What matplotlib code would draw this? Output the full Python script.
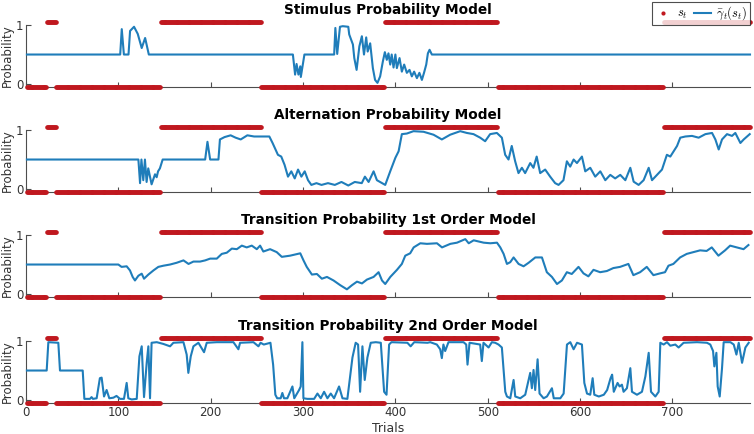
import numpy as np
import matplotlib
matplotlib.use("Agg")
import matplotlib.pyplot as plt
from matplotlib.lines import Line2D

# ---------------- data ----------------
titles = ["Stimulus Probability Model",
          "Alternation Probability Model",
          "Transition Probability 1st Order Model",
          "Transition Probability 2nd Order Model"]

# stimulus sequence s_t as runs
s_run_values = [0, 1, 0, 1, 0, 1, 0, 1]
s_run_lengths = [22, 10, 113, 109, 134, 122, 180, 94]

x_ticks = [0, 100, 200, 300, 400, 500, 600, 700]
y_ticks = [0, 1]

# Panel 1: stimulus probability
stim_t = [1, 102, 103.7, 106, 111, 112.7, 117, 121, 125.3, 129, 133, 289, 291.4, 293, 295, 297,
          297.6, 301.5, 333.7, 335, 337, 340, 343, 349, 350, 354, 355.5, 358, 361, 363.7, 366,
          368.4, 370, 372.7, 375.6, 378, 380.6, 383.5, 386.4, 388.6, 390.7, 392.5, 394.4, 396,
          398, 400, 401.6, 404.5, 407, 409.5, 412.4, 415.3, 417.8, 420.3, 423.3, 426, 428.7,
          431, 433.4, 435.2, 437, 439.5, 784]
stim_p = [0.5, 0.5, 0.93, 0.5, 0.5, 0.9, 0.97, 0.85, 0.61, 0.78, 0.5, 0.5, 0.16, 0.34, 0.16, 0.3,
          0.12, 0.5, 0.5, 0.95, 0.51, 0.97, 0.98, 0.97, 0.84, 0.67, 0.44, 0.24, 0.64, 0.81, 0.5,
          0.79, 0.55, 0.69, 0.27, 0.07, 0.02, 0.13, 0.38, 0.54, 0.41, 0.52, 0.33, 0.5,
          0.28, 0.5, 0.27, 0.44, 0.21, 0.33, 0.19, 0.24, 0.13, 0.21, 0.10, 0.19, 0.07,
          0.19, 0.33, 0.52, 0.58, 0.5, 0.5]

# Panel 2: alternation probability
alt_t = [1, 121.7, 123.5, 125, 127, 128.8, 130.6, 132.4, 136, 139.7, 141.5, 143, 145, 148, 194,
         196.5, 199.4, 208.4, 210, 215, 221.6, 227, 232.5, 239.7, 247, 254.5, 263.5, 267, 272.8,
         276.4, 280, 283.7, 287.3, 291, 294.6, 298.2, 301.8, 305.4, 309, 314.5, 320, 327, 334.4,
         341.6, 349, 356, 363.6, 367, 371, 376.4, 380, 385.5, 389, 394.4, 400, 403.5, 407,
         412.4, 419.6, 430.5, 441.3, 450.3, 459.3, 470.2, 477.4, 484.6, 491.8, 497.2, 502.6,
         509.9, 515.3, 518.9, 522.5, 526, 529.7, 533.3, 537, 540.5, 546, 549.5, 553, 556.8,
         562.2, 567.6, 573, 576.7, 582, 585.7, 589.3, 593, 596.6, 602, 605.6, 611, 616.4, 621.9,
         627.3, 632.7, 638, 643.5, 649, 654.4, 658, 663.4, 668.8, 674.3, 677.9, 683.3, 688.7,
         694, 697.7, 701.3, 705, 708.5, 714, 721.2, 728.4, 735.7, 742.9, 746.5, 750.1, 753.7,
         759.1, 764.5, 768.1, 773.6, 777.2, 780.8, 783.7]
alt_p = [0.5, 0.5, 0.1, 0.5, 0.15, 0.5, 0.12, 0.35, 0.08, 0.25, 0.2, 0.3, 0.35, 0.5, 0.5,
         0.8, 0.5, 0.5, 0.84, 0.88, 0.91, 0.87, 0.84, 0.91, 0.89, 0.89, 0.89, 0.78, 0.58,
         0.55, 0.41, 0.21, 0.3, 0.18, 0.33, 0.21, 0.3, 0.15, 0.07, 0.1, 0.07, 0.1, 0.07,
         0.12, 0.06, 0.12, 0.1, 0.21, 0.12, 0.3, 0.15, 0.1, 0.07, 0.3, 0.53, 0.64, 0.93,
         0.94, 0.98, 0.97, 0.92, 0.84, 0.92, 0.98, 0.95, 0.93, 0.87, 0.81, 0.93,
         0.95, 0.87, 0.58, 0.5, 0.73, 0.47, 0.27, 0.36, 0.27, 0.44, 0.36, 0.55, 0.27,
         0.33, 0.21, 0.1, 0.07, 0.15, 0.47, 0.38, 0.5, 0.44, 0.55, 0.3, 0.36, 0.21, 0.3,
         0.15, 0.24, 0.18, 0.24, 0.15, 0.36, 0.125, 0.07, 0.15, 0.36, 0.15, 0.24, 0.33,
         0.58, 0.55, 0.64, 0.73, 0.87, 0.89, 0.9, 0.87, 0.93, 0.95, 0.84, 0.67, 0.84,
         0.93, 0.9, 0.95, 0.78, 0.84, 0.89, 0.93]

# Panel 3: transition probability 1st order
tp1_t = [1, 100, 103.5, 109, 112.6, 115.5, 118, 121.7, 125.3, 127.8, 132.5, 138, 143.3, 148.8,
         156, 163.2, 170.5, 176, 181.3, 188.5, 194, 199.4, 206.6, 212, 217.4, 222.9, 228.3,
         233.7, 239, 244.5, 249.9, 253.5, 257, 264.3, 271.5, 277, 286, 297, 300.5, 304, 309.6,
         315, 320.4, 325.9, 333, 340.3, 347.5, 353, 358.4, 363.8, 369.2, 376.4, 381.8, 385.5,
         389, 394.5, 401.7, 407, 410.7, 416, 419.8, 427, 434.2, 445, 450.5, 459.5, 466.7,
         475.7, 479.4, 484.8, 495.6, 502.8, 510, 513.6, 517.2, 520.8, 524.4, 528, 533.4,
         538.8, 544.3, 551.5, 558.7, 564, 569.5, 575, 580.3, 585.7, 591, 598.3, 603.7, 609,
         614.5, 621.7, 629, 636, 643.3, 652.3, 657.7, 665, 672.2, 679.4, 686.6, 692, 695.7,
         701, 708.3, 715.5, 722.7, 730, 737, 742.6, 749.8, 757, 762.5, 769.7, 777, 782.3]
tp1_p = [0.5, 0.5, 0.46, 0.47, 0.4, 0.29, 0.23, 0.31, 0.345, 0.26, 0.33, 0.4, 0.46, 0.48,
         0.5, 0.53, 0.57, 0.51, 0.55, 0.55, 0.57, 0.6, 0.6, 0.68, 0.7, 0.77, 0.76,
         0.82, 0.79, 0.82, 0.76, 0.82, 0.72, 0.76, 0.71, 0.63, 0.65, 0.69, 0.57, 0.46, 0.33,
         0.34, 0.26, 0.29, 0.23, 0.15, 0.08, 0.15, 0.21, 0.18, 0.245, 0.29, 0.37, 0.23,
         0.17, 0.29, 0.41, 0.51, 0.65, 0.69, 0.79, 0.86, 0.85, 0.86, 0.79, 0.85, 0.87,
         0.93, 0.86, 0.91, 0.87, 0.86, 0.87, 0.79, 0.68, 0.51, 0.54, 0.62, 0.51,
         0.47, 0.53, 0.62, 0.62, 0.37, 0.29, 0.17, 0.23, 0.37, 0.34, 0.46, 0.35, 0.3,
         0.41, 0.37, 0.39, 0.44, 0.46, 0.51, 0.32, 0.37, 0.46, 0.32, 0.35, 0.37, 0.48,
         0.51, 0.62, 0.68, 0.71, 0.74, 0.73, 0.79, 0.65, 0.74, 0.82, 0.79, 0.76, 0.83]

# Panel 4: transition probability 2nd order
tp2_t = [1, 22.4, 24.2, 35, 36.8, 61.4, 63.2, 69.3, 71, 72.5, 76.5, 80, 81.9, 84.5, 87.3, 90.2,
         94.6, 98, 101.8, 106.1, 109, 110.8, 114.4, 119.9, 122.8, 125.3, 127.8, 130.7, 132.5,
         134.3, 136, 141.6, 148.8, 156, 159.6, 170.5, 174, 175.8, 178.4, 181.3, 186.7, 192.8,
         195.7, 206.6, 224.6, 230, 231.8, 246.3, 251.7, 254, 257.5, 264.7, 267.6, 270, 272,
         275.8, 277.6, 279.4, 283, 288.5, 290.5, 295.7, 297.5, 299.3, 300.4, 304.7, 312,
         315.6, 319.2, 322.8, 326.4, 330, 333.6, 339, 342.7, 348, 353.5, 357, 359.6, 361.8,
         364.3, 366.8, 369.7, 373.3, 378.8, 384.2, 387.8, 390.4, 393.2, 395.7, 413, 416.5,
         420.4, 434.8, 437.7, 444.9, 448.5, 450.3, 452, 453.9, 457.5, 473.8, 476.7, 478.1,
         480.3, 491.8, 493.6, 495.4, 500.9, 504.5, 508.1, 511.7, 515.3, 519, 520.8, 524.4,
         528, 529.8, 535.2, 540.6, 546, 547.8, 549.6, 551.4, 554, 556.1, 560.5, 564.1, 569.5,
         571.5, 578.6, 582.2, 585.8, 589.4, 593, 596.7, 602, 604.6, 607.5, 611, 613.6, 615.4,
         620.3, 625.7, 629.3, 633, 634.7, 636.5, 640.6, 642.8, 645.3, 647.1, 650.7, 654.4,
         656.2, 661.6, 667, 670.7, 674.3, 676.8, 681.5, 685.1, 686.9, 690.5, 694.1, 697.7,
         703.1, 706.7, 712.1, 726.6, 737.4, 741, 744, 745.4, 747.6, 749, 751.2, 753.7, 755.5,
         762.8, 766.4, 769.3, 771.8, 775.4, 779, 782.6]
tp2_p = [0.5, 0.5, 0.98, 0.97, 0.5, 0.5, 0.02, 0.02, 0.05, 0.02, 0.03, 0.37, 0.38, 0.06, 0.17,
         0.03, 0.04, 0.07, 0.02, 0.02, 0.29, 0.03, 0.01, 0.02, 0.74, 0.91, 0.05, 0.63, 0.91,
         0.03, 0.97, 0.98, 0.95, 0.91, 0.97, 0.98, 0.77, 0.46, 0.74, 0.91, 0.97, 0.81,
         0.97, 0.98, 0.98, 0.86, 0.97, 0.98, 0.91, 0.97, 0.94, 0.97, 0.6, 0.09, 0.03,
         0.03, 0.12, 0.03, 0.03, 0.23, 0.03, 0.17, 0.23, 0.98, 0.03, 0.02, 0.02,
         0.11, 0.03, 0.14, 0.03, 0.11, 0.03, 0.23, 0.03, 0.02, 0.72, 0.97, 0.94, 0.14,
         0.91, 0.34, 0.72, 0.97, 0.98, 0.97, 0.14, 0.09, 0.94, 0.98, 0.97, 0.91,
         0.98, 0.97, 0.98, 0.94, 0.86, 0.71, 0.94, 0.83, 0.98, 0.98, 0.94, 0.6,
         0.97, 0.94, 0.66, 0.97, 0.89, 0.98, 0.97, 0.94, 0.89, 0.14, 0.06, 0.03,
         0.34, 0.06, 0.03, 0.09, 0.46, 0.2, 0.51, 0.17, 0.69, 0.11, 0.03, 0.06, 0.2,
         0.03, 0.03, 0.11, 0.94, 0.98, 0.86, 0.97, 0.94, 0.29, 0.11, 0.09, 0.37, 0.09,
         0.06, 0.09, 0.17, 0.37, 0.43, 0.14, 0.29, 0.23, 0.26, 0.14, 0.2, 0.54,
         0.14, 0.09, 0.14, 0.4, 0.8, 0.14, 0.06, 0.14, 0.97, 0.94, 0.98, 0.92,
         0.94, 0.89, 0.97, 0.98, 0.97, 0.94, 0.83, 0.57, 0.8, 0.23, 0.06, 0.54, 0.98,
         0.98, 0.94, 0.77, 0.97, 0.63, 0.89, 0.97]

model_t = [stim_t, alt_t, tp1_t, tp2_t]
model_p = [stim_p, alt_p, tp1_p, tp2_p]

# ---------------- style ----------------
plt.rcParams['font.family'] = ['DejaVu Sans']
plt.rcParams['mathtext.fontset'] = 'cm'
RED = '#c0181f'
BLUE = '#1f7dba'
GREY = '#4d4d4d'

s = np.repeat(s_run_values, s_run_lengths)
trials = np.arange(1, len(s) + 1)
s_y = np.where(s == 1, 1.05, -0.05)

fig = plt.figure(figsize=(7.54, 4.34), dpi=100)
W, H = 754, 434
left = 26 / W
width = (750 - 26) / W
bottoms_px = [87, 192, 297, 403]
height = 62 / H

axes = []
for i in range(4):
    ax = fig.add_axes([left, 1 - bottoms_px[i] / H, width, height])
    axes.append(ax)
    ax.plot(trials, s_y, linestyle='none', marker='o', ms=3.3, mew=0,
            color=RED, clip_on=False, zorder=3)
    ax.plot(model_t[i], model_p[i], color=BLUE, lw=1.5, clip_on=False, zorder=4)
    ax.set_xlim(0, 784)
    ax.set_ylim(-0.05, 1.0)
    ax.set_xticks(x_ticks)
    ax.set_yticks(y_ticks)
    ax.spines['top'].set_visible(False)
    ax.spines['right'].set_visible(False)
    for sp in ('left', 'bottom'):
        ax.spines[sp].set_color(GREY)
        ax.spines[sp].set_linewidth(0.8)
    ax.tick_params(direction='in', length=3.5, width=0.8, color=GREY,
                   labelsize=8.5, labelcolor='#333333', pad=2)
    ax.set_ylabel('Probability', fontsize=8.5, color='#333333', labelpad=1)
    ax.set_title(titles[i], fontsize=9.8, fontweight='bold', pad=8)
    if i < 3:
        ax.tick_params(labelbottom=False)

axes[-1].set_xlabel('Trials', fontsize=9, color='#333333', labelpad=2)

handles = [Line2D([], [], linestyle='none', marker='o', ms=3, mew=0, color=RED),
           Line2D([], [], color=BLUE, lw=1.5)]
leg = fig.legend(handles, [r'$s_t$', r'$\bar{\gamma}_t(s_t)$'], ncol=2,
                 loc='upper right', bbox_to_anchor=(750 / W, 1 - 2 / H),
                 fontsize=9, frameon=True, fancybox=False, edgecolor='#222222',
                 handlelength=1.4, handletextpad=0.4, columnspacing=0.5,
                 borderpad=0.2, borderaxespad=0)
leg.get_frame().set_linewidth(0.8)

fig.savefig('out.png', dpi=100)
